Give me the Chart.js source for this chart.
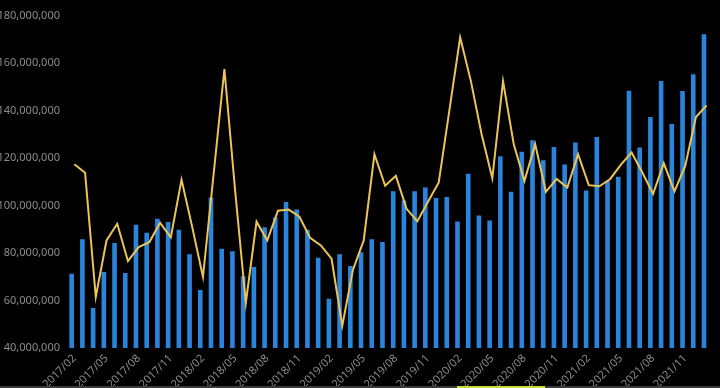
<!doctype html>
<html>

<head>
    <title>Monthly Bar + Line</title>
    <script src="https://cdn.jsdelivr.net/npm/chart.js@4.4.1/dist/chart.umd.min.js"></script>
    <style>
    html, body {
        margin: 0;
        padding: 0;
        background: #000;
        overflow: hidden;
    }
    #wrap {
        position: relative;
        width: 720px;
        height: 388px;
    }
    #bar-strip {
        position: absolute;
        left: 0;
        bottom: 0;
        width: 720px;
        height: 2px;
        background: #3a3a3a;
    }
    #bar-strip span {
        position: absolute;
        left: 457px;
        width: 88px;
        height: 2px;
        background: #c6dc3a;
    }
    </style>
</head>

<body>
    <div id="wrap">
        <canvas id="canvas"></canvas>
        <div id="bar-strip"><span></span></div>
    </div>

    <script>
    // months shown on the category axis
    var months = [
        "2017/02", "2017/03", "2017/04", "2017/05", "2017/06", "2017/07", "2017/08", "2017/09", "2017/10", "2017/11",
        "2017/12", "2018/01", "2018/02", "2018/03", "2018/04", "2018/05", "2018/06", "2018/07", "2018/08", "2018/09",
        "2018/10", "2018/11", "2018/12", "2019/01", "2019/02", "2019/03", "2019/04", "2019/05", "2019/06", "2019/07",
        "2019/08", "2019/09", "2019/10", "2019/11", "2019/12", "2020/01", "2020/02", "2020/03", "2020/04", "2020/05",
        "2020/06", "2020/07", "2020/08", "2020/09", "2020/10", "2020/11", "2020/12", "2021/01", "2021/02", "2021/03",
        "2021/04", "2021/05", "2021/06", "2021/07", "2021/08", "2021/09", "2021/10", "2021/11", "2021/12", "2022/01"
    ];

    // values in millions
    var barValues = [
        71.3, 85.8, 56.8, 72.0, 84.2, 71.6, 91.9, 88.5, 94.4, 93.1,
        89.8, 79.5, 64.4, 103.4, 81.8, 80.8, 70.2, 74.1, 90.9, 95.0,
        101.5, 98.3, 89.8, 78.0, 60.7, 79.5, 74.5, 80.3, 85.8, 84.6,
        106.0, 102.1, 106.0, 107.6, 103.2, 103.6, 93.3, 113.4, 95.8, 93.7,
        120.8, 105.8, 122.7, 127.5, 119.1, 124.7, 117.3, 126.5, 106.3, 128.9,
        110.4, 112.1, 148.3, 124.4, 137.3, 152.5, 134.3, 148.2, 155.3, 172.1
    ];

    var lineValues = [
        117.4, 113.8, 61.5, 85.3, 92.3, 76.6, 82.5, 84.6, 92.7, 86.6,
        110.9, 90.9, 69.9, 113.4, 157.5, 106.4, 59.0, 93.2, 85.3, 97.8,
        98.3, 95.3, 86.4, 83.2, 77.6, 49.4, 73.0, 85.3, 121.6, 108.3,
        112.5, 98.6, 93.4, 101.6, 109.7, 140.3, 170.8, 152.4, 130.0, 111.5,
        152.4, 125.8, 110.4, 125.8, 105.8, 111.2, 107.6, 121.6, 108.6, 108.1,
        111.2, 117.2, 122.3, 113.9, 104.9, 117.8, 106.0, 116.7, 137.3, 142.2
    ];

    var yMin = 40, yMax = 180, yStep = 20;

    var tickColor = '#8c8c8c';
    var tickFont = { family: 'Noto Sans', size: 11 };

    var config = {
        type: 'bar',
        data: {
            labels: months,
            datasets: [{
                type: 'line',
                label: 'line',
                data: lineValues,
                borderColor: '#ebc457',
                borderWidth: 2,
                pointRadius: 0,
                tension: 0,
                fill: false,
                order: 0
            }, {
                label: 'bar',
                data: barValues,
                backgroundColor: '#2b84dc',
                categoryPercentage: 1,
                barPercentage: 0.86,
                order: 1
            }, {
                // empty slot so bars sit left of the category centre
                label: 'spacer',
                data: months.map(function() { return null; }),
                backgroundColor: 'rgba(0,0,0,0)',
                categoryPercentage: 1,
                barPercentage: 0.86,
                order: 2
            }]
        },
        options: {
            responsive: true,
            maintainAspectRatio: false,
            animation: false,
            layout: {
                padding: { top: 15, right: 2, left: 0, bottom: 0 }
            },
            plugins: {
                legend: { display: false },
                tooltip: { enabled: false }
            },
            scales: {
                x: {
                    grid: { display: false, drawTicks: false },
                    border: { display: false },
                    ticks: {
                        autoSkip: false,
                        maxRotation: 45,
                        minRotation: 45,
                        padding: 4,
                        color: tickColor,
                        font: tickFont,
                        callback: function(val, i) {
                            return i % 3 === 0 ? months[i] : '';
                        }
                    },
                    afterFit: function(axis) { axis.height = 40; }
                },
                y: {
                    min: yMin,
                    max: yMax,
                    grid: { display: false, drawTicks: false },
                    border: { display: false },
                    ticks: {
                        stepSize: yStep,
                        padding: 9,
                        color: tickColor,
                        font: tickFont,
                        callback: function(v) {
                            return (v * 1000000).toLocaleString('en-US');
                        }
                    },
                    afterFit: function(axis) { axis.width = 69; }
                }
            }
        }
    };

    window.onload = function() {
        window.myChart = new Chart(document.getElementById('canvas'), config);
    };
    </script>
</body>

</html>
